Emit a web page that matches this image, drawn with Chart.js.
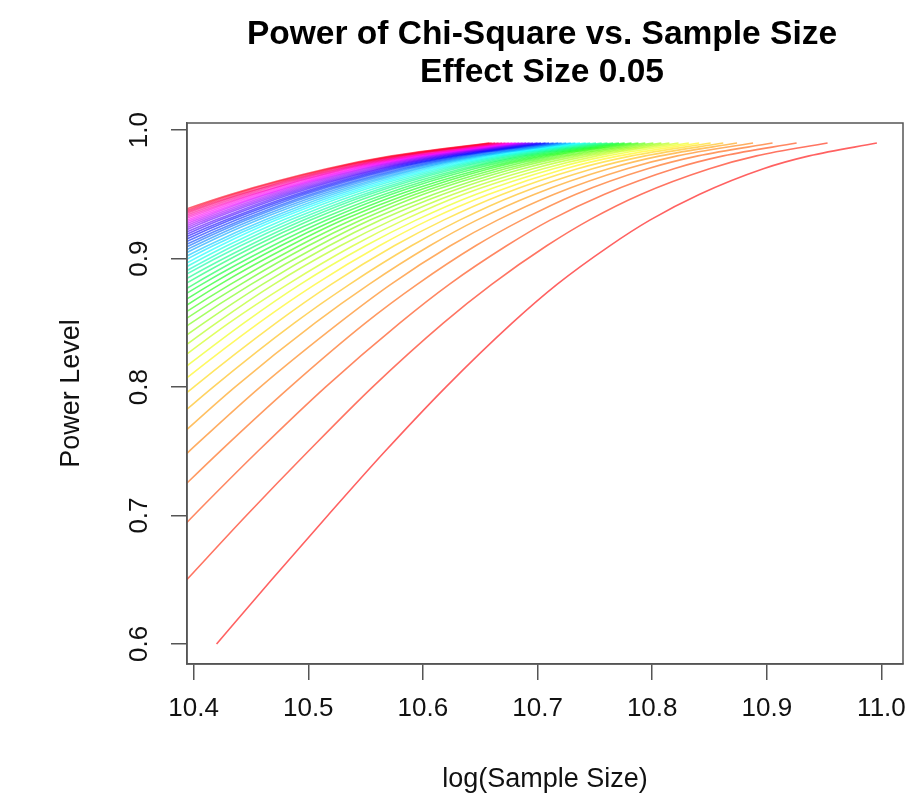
<!DOCTYPE html>
<html>
<head>
<meta charset="utf-8">
<title>Power of Chi-Square vs. Sample Size</title>
<script src="https://cdn.jsdelivr.net/npm/chart.js@4.4.1/dist/chart.umd.min.js"></script>
<style>
  html, body { margin: 0; padding: 0; background: #fff; }
  canvas { display: block; }
</style>
</head>
<body>
<canvas id="powerChart" width="912" height="798"></canvas>
<script>
// power level of each point on a curve (shared by all curves)
const powerLevels = [0.60, 0.65, 0.70, 0.75, 0.80, 0.85, 0.88, 0.91, 0.93, 0.95, 0.97, 0.98, 0.99];

// one curve per significance level
const sigLevels = [
  0.001, 0.002, 0.003, 0.004, 0.005, 0.006, 0.007, 0.008, 0.009, 0.010,
  0.011, 0.012, 0.013, 0.014, 0.015, 0.016, 0.017, 0.018, 0.019, 0.020,
  0.021, 0.022, 0.023, 0.024, 0.025, 0.026, 0.027, 0.028, 0.029, 0.030,
  0.031, 0.032, 0.033, 0.034, 0.035, 0.036, 0.037, 0.038, 0.039, 0.040,
  0.041, 0.042, 0.043, 0.044, 0.045, 0.046, 0.047, 0.048, 0.049, 0.050
];

// log(sample size); a row lines up with the LAST entries of powerLevels
// (the part of a curve left of the plot box is cut off, so short rows start higher up)
const logSampleSize = [
  [10.420, 10.468, 10.517, 10.567, 10.620, 10.678, 10.717, 10.763, 10.798, 10.841, 10.897, 10.937, 10.996],
  [10.342, 10.394, 10.446, 10.500, 10.556, 10.618, 10.660, 10.708, 10.745, 10.790, 10.850, 10.891, 10.953],
  [10.346, 10.400, 10.456, 10.515, 10.580, 10.623, 10.673, 10.711, 10.758, 10.819, 10.862, 10.926],
  [10.365, 10.423, 10.484, 10.550, 10.595, 10.646, 10.686, 10.733, 10.796, 10.840, 10.905],
  [10.336, 10.396, 10.458, 10.527, 10.572, 10.624, 10.665, 10.714, 10.778, 10.822, 10.888],
  [10.373, 10.436, 10.506, 10.553, 10.606, 10.647, 10.697, 10.762, 10.807, 10.874],
  [10.352, 10.417, 10.488, 10.536, 10.590, 10.632, 10.682, 10.748, 10.794, 10.862],
  [10.334, 10.400, 10.472, 10.520, 10.575, 10.618, 10.669, 10.735, 10.782, 10.851],
  [10.317, 10.384, 10.457, 10.506, 10.562, 10.605, 10.657, 10.724, 10.771, 10.841],
  [10.370, 10.444, 10.493, 10.550, 10.594, 10.646, 10.714, 10.761, 10.832],
  [10.356, 10.431, 10.482, 10.539, 10.583, 10.635, 10.705, 10.752, 10.823],
  [10.344, 10.420, 10.470, 10.528, 10.573, 10.626, 10.696, 10.744, 10.815],
  [10.332, 10.409, 10.460, 10.518, 10.563, 10.617, 10.687, 10.736, 10.808],
  [10.321, 10.398, 10.450, 10.509, 10.554, 10.609, 10.679, 10.728, 10.801],
  [10.310, 10.388, 10.441, 10.500, 10.546, 10.600, 10.672, 10.721, 10.794],
  [10.300, 10.379, 10.432, 10.492, 10.538, 10.593, 10.665, 10.714, 10.788],
  [10.370, 10.423, 10.484, 10.530, 10.586, 10.658, 10.708, 10.782],
  [10.361, 10.415, 10.476, 10.523, 10.579, 10.652, 10.702, 10.776],
  [10.353, 10.407, 10.469, 10.516, 10.572, 10.645, 10.696, 10.771],
  [10.345, 10.400, 10.461, 10.509, 10.566, 10.639, 10.690, 10.766],
  [10.337, 10.392, 10.454, 10.502, 10.559, 10.634, 10.685, 10.761],
  [10.330, 10.385, 10.448, 10.496, 10.553, 10.628, 10.680, 10.756],
  [10.323, 10.378, 10.441, 10.490, 10.548, 10.623, 10.675, 10.751],
  [10.372, 10.435, 10.484, 10.542, 10.618, 10.670, 10.746],
  [10.365, 10.429, 10.478, 10.536, 10.613, 10.665, 10.742],
  [10.359, 10.423, 10.472, 10.531, 10.608, 10.660, 10.737],
  [10.353, 10.417, 10.467, 10.526, 10.603, 10.655, 10.733],
  [10.347, 10.412, 10.462, 10.521, 10.598, 10.651, 10.729],
  [10.341, 10.406, 10.456, 10.516, 10.594, 10.647, 10.725],
  [10.335, 10.401, 10.451, 10.511, 10.589, 10.643, 10.721],
  [10.330, 10.396, 10.446, 10.506, 10.585, 10.638, 10.718],
  [10.324, 10.391, 10.442, 10.502, 10.581, 10.634, 10.714],
  [10.319, 10.386, 10.437, 10.497, 10.576, 10.630, 10.710],
  [10.314, 10.381, 10.432, 10.493, 10.572, 10.627, 10.707],
  [10.308, 10.376, 10.428, 10.489, 10.568, 10.623, 10.703],
  [10.371, 10.423, 10.484, 10.564, 10.619, 10.700],
  [10.366, 10.419, 10.480, 10.561, 10.616, 10.696],
  [10.362, 10.414, 10.476, 10.557, 10.612, 10.693],
  [10.357, 10.410, 10.472, 10.553, 10.609, 10.690],
  [10.353, 10.406, 10.468, 10.549, 10.605, 10.687],
  [10.349, 10.402, 10.464, 10.546, 10.602, 10.684],
  [10.344, 10.398, 10.461, 10.542, 10.598, 10.681],
  [10.340, 10.394, 10.457, 10.539, 10.595, 10.678],
  [10.336, 10.390, 10.453, 10.535, 10.592, 10.675],
  [10.332, 10.386, 10.450, 10.532, 10.589, 10.672],
  [10.328, 10.382, 10.446, 10.529, 10.585, 10.669],
  [10.324, 10.378, 10.442, 10.526, 10.582, 10.666],
  [10.320, 10.374, 10.439, 10.522, 10.579, 10.663],
  [10.316, 10.371, 10.435, 10.519, 10.576, 10.660],
  [10.312, 10.367, 10.432, 10.516, 10.573, 10.658]
];

const xTicks = [10.4, 10.5, 10.6, 10.7, 10.8, 10.9, 11.0];
const yTicks = [0.6, 0.7, 0.8, 0.9, 1.0];
const titleLines = ['Power of Chi-Square vs. Sample Size', 'Effect Size 0.05'];

const FONT = "'Liberation Sans', Arial, Helvetica, sans-serif";
const AXIS_COLOR = '#555';
const TEXT_COLOR = '#111';

Chart.defaults.font.family = FONT;
Chart.defaults.color = TEXT_COLOR;

// rainbow colours, first curve red, a bit see-through like the original
const datasets = logSampleSize.map((row, i) => {
  const offset = powerLevels.length - row.length;
  const hue = (i / logSampleSize.length) * 360;
  return {
    label: 'alpha = ' + sigLevels[i],
    data: row.map((x, k) => ({ x: x, y: powerLevels[offset + k] })),
    borderColor: `hsla(${hue}, 100%, 50%, 0.62)`,
    borderWidth: 1.6,
    pointRadius: 0,
    fill: false,
    cubicInterpolationMode: 'monotone',
    capBezierPoints: false,
    clip: 0,
    order: logSampleSize.length - i   // later curves drawn on top, like lines() in R
  };
});

// box around the plot area + two-line title centred on it
const framePlugin = {
  id: 'frame',
  afterDraw(chart) {
    const { ctx, chartArea: a } = chart;
    ctx.save();
    ctx.strokeStyle = AXIS_COLOR;
    ctx.lineWidth = 1.5;
    ctx.strokeRect(a.left, a.top, a.right - a.left, a.bottom - a.top);

    ctx.fillStyle = '#000';
    ctx.font = 'bold 33.5px ' + FONT;
    ctx.textAlign = 'center';
    ctx.textBaseline = 'middle';
    const cx = (a.left + a.right) / 2 - 3;
    titleLines.forEach((t, k) => ctx.fillText(t, cx, 35 + k * 38));
    ctx.restore();
  }
};

const tickGrid = {
  display: true,
  drawOnChartArea: false,
  drawTicks: true,
  tickLength: 16,
  color: AXIS_COLOR,
  lineWidth: 1.5
};

new Chart(document.getElementById('powerChart').getContext('2d'), {
  type: 'line',
  data: { datasets: datasets },
  options: {
    responsive: false,
    animation: false,
    events: [],
    layout: { padding: { top: 123, right: 9, bottom: 0, left: 0 } },
    plugins: {
      legend: { display: false },
      title: { display: false },
      tooltip: { enabled: false }
    },
    scales: {
      x: {
        type: 'linear',
        min: 10.3942,
        max: 11.0188,
        afterBuildTicks: (s) => { s.ticks = xTicks.map(v => ({ value: v })); },
        afterFit: (s) => { s.height = 134; s.paddingLeft = 0; s.paddingRight = 0; },
        ticks: {
          autoSkip: false,
          maxRotation: 0,
          padding: 13,
          font: { size: 26 },
          color: TEXT_COLOR,
          callback: (v) => Number(v).toFixed(1)
        },
        grid: tickGrid,
        border: { display: true, color: AXIS_COLOR, width: 1.5 },
        title: {
          display: true,
          text: 'log(Sample Size)',
          font: { size: 27 },
          color: TEXT_COLOR,
          padding: { top: 0, bottom: 2 }
        }
      },
      y: {
        type: 'linear',
        min: 0.5844,
        max: 1.0056,
        afterBuildTicks: (s) => { s.ticks = yTicks.map(v => ({ value: v })); },
        afterFit: (s) => { s.width = 187; s.paddingTop = 0; s.paddingBottom = 0; },
        ticks: {
          autoSkip: false,
          minRotation: 90,
          maxRotation: 90,
          crossAlign: 'center',
          padding: 13,
          font: { size: 26 },
          color: TEXT_COLOR,
          callback: (v) => Number(v).toFixed(1)
        },
        grid: tickGrid,
        border: { display: true, color: AXIS_COLOR, width: 1.5 },
        title: {
          display: true,
          text: 'Power Level',
          font: { size: 27 },
          color: TEXT_COLOR,
          padding: { top: 55, bottom: 0 }
        }
      }
    }
  },
  plugins: [framePlugin]
});
</script>
</body>
</html>
